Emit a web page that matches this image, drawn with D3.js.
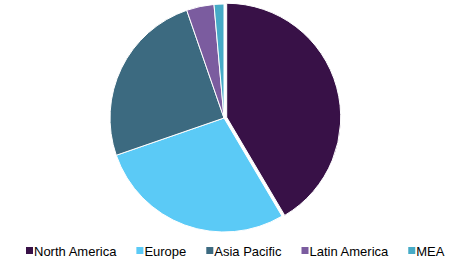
<!DOCTYPE html>
<html><head><meta charset="utf-8">
<script src="https://cdn.jsdelivr.net/npm/d3@7"></script>
<style>html,body{margin:0;padding:0;background:#fff;}svg{display:block;}</style>
</head><body>
<svg id="chart" width="461" height="271"></svg>
<script>
const categories = ["North America", "Europe", "Asia Pacific", "Latin America", "MEA"];
const values = [41.5, 28.2, 25.0, 3.9, 1.4];
const colors = ["#381147", "#5bcaf6", "#3c6a80", "#7b5c9f", "#46abc7"];

const svg = d3.select("#chart");
const cx = 224, cy = 118, r = 114;
const explodeIndex = 0, explodeDist = 2.8;

const pie = d3.pie().sort(null).value(d => d)(values);
const arc = d3.arc().innerRadius(0).outerRadius(r);

const g = svg.append("g").attr("transform", `translate(${cx},${cy})`);
g.selectAll("path").data(pie).join("path")
  .attr("d", arc)
  .attr("fill", (d, i) => colors[i])
  .attr("stroke", "#fff")
  .attr("stroke-width", 1)
  .attr("transform", (d, i) => {
    if (i !== explodeIndex) return null;
    const a = (d.startAngle + d.endAngle) / 2;
    return `translate(${Math.sin(a) * explodeDist},${-Math.cos(a) * explodeDist})`;
  });

// legend
const leg = svg.append("g").attr("font-family", "Arial, 'Liberation Sans', sans-serif").attr("font-size", 13).attr("fill", "#000");
let x = 26;
categories.forEach((c, i) => {
  leg.append("rect").attr("x", x).attr("y", 247).attr("width", 7).attr("height", 7).attr("fill", colors[i]);
  const t = leg.append("text").attr("x", x + 8).attr("y", 256).text(c);
  x += 8 + t.node().getComputedTextLength() + 20;
});
</script>
</body></html>
